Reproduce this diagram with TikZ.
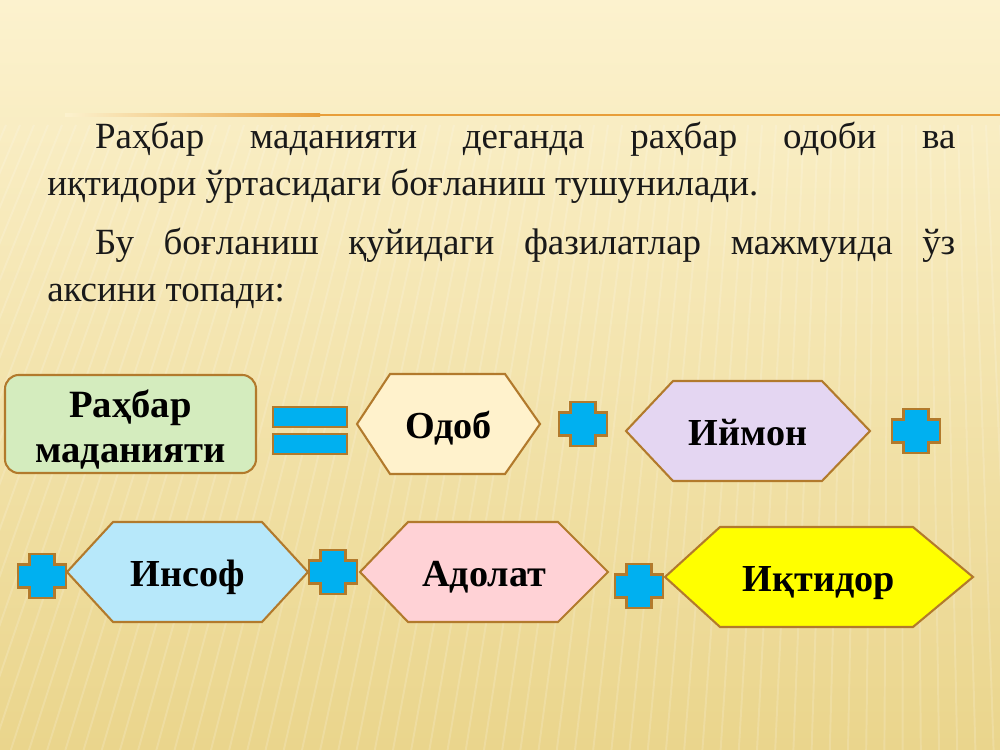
\documentclass[tikz,border=0pt]{standalone}
\usepackage{fontspec}
\setmainfont{Liberation Serif}
\definecolor{bgtop}{RGB}{252,242,206}
\definecolor{bgbottom}{RGB}{234,213,140}
\definecolor{rulecol}{RGB}{232,158,58}
\definecolor{signborder}{RGB}{178,122,44}
\definecolor{signblue}{RGB}{0,176,240}
\definecolor{leadgreen}{RGB}{212,236,190}
\definecolor{hexcream}{RGB}{255,242,204}
\definecolor{hexlilac}{RGB}{228,214,242}
\definecolor{hexsky}{RGB}{183,232,250}
\definecolor{hexpink}{RGB}{255,210,214}
\definecolor{hexyellow}{RGB}{255,255,0}
\definecolor{textgray}{RGB}{25,25,25}
\tikzset{
  hexbox/.style={draw=signborder, line width=1.5pt, line join=miter},
  hexlabel/.style={font=\fontsize{27.5}{32}\selectfont\bfseries, text=black, inner sep=0pt, anchor=base},
  signbox/.style={draw=signborder, fill=signblue, line width=1.5pt},
}
\begin{document}
\begin{tikzpicture}
\begin{scope}[x=0.72pt, y=-0.72pt]
  % Background
  \useasboundingbox (0,0) rectangle (1000,750);
  \shade[top color=bgtop, bottom color=bgbottom] (0,0) rectangle (1000,750);
  \foreach \x in {-400,-386,...,1200}{
    \draw[white, opacity=0.16, line width=1.4pt] (\x,125) -- ({\x+(\x-900)*0.3},750);
  }
  % Rule under the title area
  \shade[left color=bgtop, right color=rulecol] (65,114) rectangle (320,116.5);
  \fill[rulecol] (319,114) rectangle (1000,116.5);
  % Paragraph
  \node[anchor=base west, inner sep=0pt, text width=653.8pt, align=justify,
        font=\fontsize{26.6}{33.8}\selectfont, text=textgray] (intro) at (47,149)
    {\noindent\hspace*{34.5pt}Раҳбар маданияти деганда раҳбар одоби ва\linebreak
     иқтидори ўртасидаги боғланиш тушунилади.\par\vspace{8.5pt}
     \noindent\hspace*{34.5pt}Бу боғланиш қуйидаги фазилатлар мажмуида ўз\linebreak
     аксини топади:};
  % Leader box and equals sign
  \node[draw=signborder, fill=leadgreen, line width=1.5pt, rounded corners=10pt,
        minimum width=180.7pt, minimum height=70.6pt] (leader) at (130.5,424) {};
  \node[align=center, inner sep=0pt, font=\fontsize{27.8}{32.4}\selectfont\bfseries]
    (leadertext) at (130.5,430) {Раҳбар\\маданияти};
  \draw[signbox] (273,407) rectangle (347,427);
  \draw[signbox] (273,434) rectangle (347,454);
  % Hexagons: left tip / right tip / middle / left inset / right inset / fill / name / text
  \foreach \l/\r/\y/\dl/\dr/\c/\n/\t in {
      357/540/424/33/35/hexcream/odob/Одоб,
      626/870/431/47/48/hexlilac/iymon/Иймон,
      67/308/572/46/46/hexsky/insof/Инсоф,
      360/608/572/48/50/hexpink/adolat/Адолат,
      665/973/577/55/60/hexyellow/iqtidor/Иқтидор}{
    \draw[hexbox, fill=\c] (\l,\y) -- ({\l+\dl},{\y-50}) -- ({\r-\dr},{\y-50})
      -- (\r,\y) -- ({\r-\dr},{\y+50}) -- ({\l+\dl},{\y+50}) -- cycle;
    \node[hexlabel] (\n) at ({(\l+\r)/2},{\y+14}) {\t};
  }
  % Plus signs
  \foreach \cx/\cy in {583/424, 916/431, 42/576, 333/572, 639/586}{
    \draw[signbox] ({\cx-24},{\cy-11.5}) -- ({\cx-12.5},{\cy-11.5}) -- ({\cx-12.5},{\cy-22})
      -- ({\cx+12.5},{\cy-22}) -- ({\cx+12.5},{\cy-11.5}) -- ({\cx+24},{\cy-11.5})
      -- ({\cx+24},{\cy+11.5}) -- ({\cx+12.5},{\cy+11.5}) -- ({\cx+12.5},{\cy+22})
      -- ({\cx-12.5},{\cy+22}) -- ({\cx-12.5},{\cy+11.5}) -- ({\cx-24},{\cy+11.5}) -- cycle;
  }
\end{scope}
\end{tikzpicture}
\end{document}
